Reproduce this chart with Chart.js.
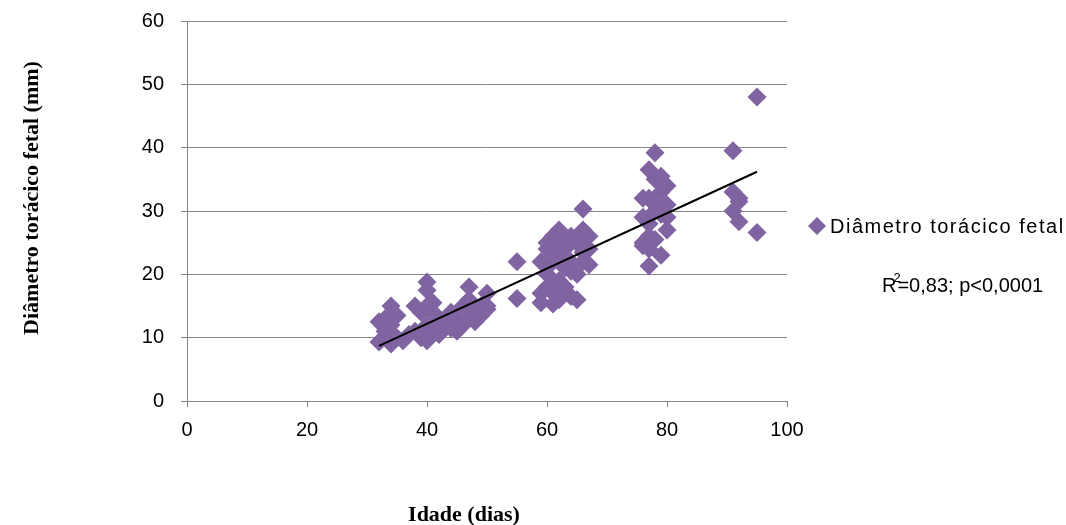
<!DOCTYPE html>
<html>
<head>
<meta charset="utf-8">
<script src="https://cdn.jsdelivr.net/npm/chart.js@4"></script>
<style>
  html, body { margin: 0; padding: 0; background: #fff; }
  #wrap { width: 1066px; height: 525px; position: relative; }
</style>
</head>
<body>
<div id="wrap"><canvas id="chart" width="1066" height="525"></canvas></div>
<script>
// idade (dias) x diâmetro torácico fetal (mm)
const ageDays = [
  32, 32, 33, 33, 34, 34, 34, 35, 35, 36, 37, 38, 38, 39, 39, 40, 40, 40, 40, 40,
  41, 41, 41, 42, 42, 43, 44, 44, 45, 45, 46, 46, 47, 47, 47, 48, 48, 49, 49, 50, 50, 50,
  55, 55, 59, 59, 59, 60, 60, 60, 60, 61, 61, 61, 61, 62, 62, 62, 62, 62,
  63, 63, 63, 64, 64, 64, 64, 65, 65, 65, 66, 66, 66, 66, 67, 67, 67,
  76, 76, 76, 76, 77, 77, 77, 77, 77, 77, 78, 78, 78, 78, 78,
  79, 79, 79, 79, 80, 80, 80, 80,
  91, 91, 91, 92, 92, 92, 95, 95
];
const thoraxMm = [
  9.3, 12.5, 11, 13, 15, 9, 12, 10, 13.5, 9.5, 10.5, 15, 11, 10, 14, 18.8, 17.5, 9.5, 12, 15,
  14, 11, 15.5, 13, 10.5, 12, 11.5, 14, 11, 13, 12, 15, 18, 13, 16, 14, 12.5, 15, 13.5, 17, 15, 14.5,
  22, 16.2, 22, 17, 15.5, 25, 24, 20, 18, 15.3, 17, 22, 26, 27, 25, 23, 19, 16,
  21, 24, 18, 26, 22, 16.5, 20.5, 25, 20, 16, 30.3, 27, 22, 23.5, 26, 24, 21.5,
  32, 29, 24.5, 25, 36.5, 32, 28, 26, 24, 21.3, 39.2, 35, 31, 30, 25.5,
  35.5, 33, 29.5, 23, 34, 31, 29, 27,
  39.5, 33, 30, 32, 28.3, 31.5, 48, 26.6
];
// linear trend line end points
const trendX = [32, 95];
const trendY = [8.7, 36.2];

const xTicks = [0, 20, 40, 60, 80, 100];
const yTicks = [0, 10, 20, 30, 40, 50, 60];

const seriesName = 'Diâmetro torácico fetal';
const statsText = ['R', '2', '=0,83; p<0,0001'];
const xTitle = 'Idade (dias)';
const yTitle = 'Diâmetro torácico fetal (mm)';

const purple = '#8064a2';
const gridColor = '#868686';
const sans = '"Liberation Sans", Arial, sans-serif';
const serif = '"Liberation Serif", "Times New Roman", serif';

const points = ageDays.map((x, i) => ({ x: x, y: thoraxMm[i] }));
const trend = trendX.map((x, i) => ({ x: x, y: trendY[i] }));

const extras = {
  id: 'extras',
  afterDraw(chart) {
    const ctx = chart.ctx;
    ctx.save();
    ctx.fillStyle = '#000';
    // axis titles
    ctx.font = 'bold 22px ' + serif;
    ctx.textAlign = 'center';
    ctx.textBaseline = 'middle';
    ctx.fillText(xTitle, 464, 515);
    ctx.translate(32, 198);
    ctx.rotate(-Math.PI / 2);
    ctx.fillText(yTitle, 0, 0);
    ctx.restore();

    // legend
    ctx.save();
    ctx.fillStyle = purple;
    ctx.beginPath();
    ctx.moveTo(817, 217);
    ctx.lineTo(826, 226);
    ctx.lineTo(817, 235);
    ctx.lineTo(808, 226);
    ctx.closePath();
    ctx.fill();
    ctx.fillStyle = '#000';
    ctx.font = '20px ' + sans;
    ctx.textBaseline = 'middle';
    ctx.textAlign = 'left';
    ctx.letterSpacing = '1.5px';
    ctx.fillText(seriesName, 830, 227);
    ctx.letterSpacing = '0px';

    // R^2 annotation
    let x = 882;
    ctx.fillText(statsText[0], x, 286);
    x += ctx.measureText(statsText[0]).width;
    ctx.font = '13px ' + sans;
    ctx.fillText(statsText[1], x - 3, 278);
    ctx.font = '20px ' + sans;
    ctx.fillText(statsText[2], x + 1, 286);
    ctx.restore();
  }
};

new Chart(document.getElementById('chart'), {
  type: 'scatter',
  data: {
    datasets: [
      {
        label: 'trend',
        type: 'line',
        data: trend,
        borderColor: '#000',
        borderWidth: 2,
        pointRadius: 0,
        fill: false,
        order: 0
      },
      {
        label: seriesName,
        data: points,
        pointStyle: 'rectRot',
        pointRadius: 9.5,
        backgroundColor: purple,
        borderColor: purple,
        borderWidth: 0,
        order: 1
      }
    ]
  },
  plugins: [extras],
  options: {
    responsive: false,
    animation: false,
    layout: { padding: { top: 21, right: 279, left: 0, bottom: 0 } },
    plugins: {
      legend: { display: false },
      tooltip: { enabled: false }
    },
    scales: {
      x: {
        type: 'linear',
        min: 0,
        max: 100,
        afterBuildTicks(scale) { scale.ticks = xTicks.map(v => ({ value: v })); },
        afterFit(scale) { scale.height = 124; scale.paddingRight = 0; },
        grid: { drawOnChartArea: false, drawTicks: true, tickLength: 6, color: gridColor },
        border: { color: gridColor, width: 1 },
        ticks: { color: '#000', font: { family: sans, size: 20 }, padding: 11 }
      },
      y: {
        min: 0,
        max: 60,
        afterBuildTicks(scale) { scale.ticks = yTicks.map(v => ({ value: v })); },
        afterFit(scale) { scale.width = 187; scale.paddingTop = 0; scale.paddingBottom = 0; },
        grid: { color: gridColor, tickLength: 6 },
        border: { color: gridColor, width: 1 },
        ticks: { color: '#000', font: { family: sans, size: 20 }, padding: 17 }
      }
    }
  }
});
</script>
</body>
</html>
